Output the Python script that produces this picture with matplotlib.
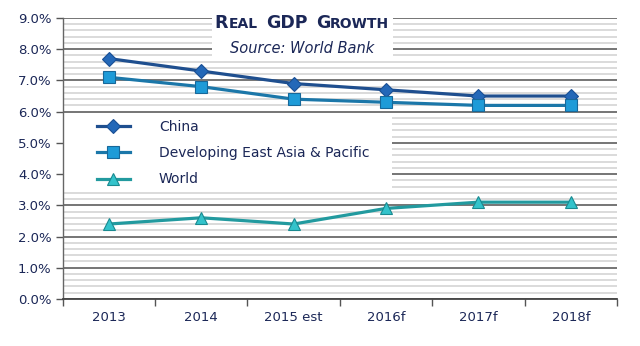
import matplotlib
matplotlib.use("Agg")
import matplotlib.pyplot as plt
from matplotlib.ticker import MultipleLocator, FuncFormatter
from matplotlib.offsetbox import TextArea, HPacker, VPacker, AnchoredOffsetbox
from matplotlib.patches import Rectangle

years = ["2013", "2014", "2015 est", "2016f", "2017f", "2018f"]
china = [7.7, 7.3, 6.9, 6.7, 6.5, 6.5]
east_asia = [7.1, 6.8, 6.4, 6.3, 6.2, 6.2]
world = [2.4, 2.6, 2.4, 2.9, 3.1, 3.1]

navy = "#1b2757"
font = "DejaVu Sans"

fig = plt.figure(figsize=(6.4, 3.46), dpi=100)
ax = fig.add_axes([0.098, 0.136, 0.866, 0.812])

x = list(range(len(years)))
ax.plot(x, china, color="#1f4f8f", lw=2.3, marker="D", ms=7,
        mfc="#2468b8", mec="#1a4f94", mew=0.8, label="China", zorder=5)
ax.plot(x, east_asia, color="#1b77a9", lw=2.3, marker="s", ms=8,
        mfc="#1e9bd8", mec="#17689a", mew=0.8,
        label="Developing East Asia & Pacific", zorder=5)
ax.plot(x, world, color="#229a9f", lw=2.3, marker="^", ms=9,
        mfc="#33c3cb", mec="#1a8a90", mew=0.8, label="World", zorder=5)

ax.set_xlim(-0.5, len(years) - 0.5)
ax.set_ylim(0, 9)

# y axis: major every 1%, light minor grid every 0.2%
ax.yaxis.set_major_locator(MultipleLocator(1))
ax.yaxis.set_minor_locator(MultipleLocator(0.2))
ax.yaxis.set_major_formatter(FuncFormatter(lambda v, p: f"{v:.1f}%"))
ax.grid(which="major", axis="y", color="#6a6a6a", lw=1.3, zorder=1)
ax.grid(which="minor", axis="y", color="#d8d8d8", lw=1.3, zorder=0)
ax.tick_params(axis="y", which="minor", length=0)
ax.tick_params(axis="y", which="major", length=5, width=1, color="#555555",
               labelsize=9.5, labelcolor=navy, pad=3)

# x axis: category labels centred, tick marks on the boundaries
ax.set_xticks(x)
ax.set_xticklabels(years)
ax.set_xticks([i - 0.5 for i in range(len(years) + 1)], minor=True)
ax.tick_params(axis="x", which="major", length=0, labelsize=9.5,
               labelcolor=navy, pad=9)
ax.tick_params(axis="x", which="minor", length=5, width=1, color="#555555")

for side in ("top", "right"):
    ax.spines[side].set_visible(False)
ax.spines["left"].set_color("#666666")
ax.spines["bottom"].set_color("#444444")
ax.spines["left"].set_linewidth(1)
ax.spines["bottom"].set_linewidth(1.3)
for side in ("left", "bottom"):
    ax.spines[side].set_zorder(8)

for lab in ax.get_xticklabels() + ax.get_yticklabels():
    lab.set_family(font)

# white panel behind the legend
ax.add_patch(Rectangle((0.0, 0.384), 0.594, 0.274, transform=ax.transAxes,
                       facecolor="white", edgecolor="none", zorder=4))

leg = ax.legend(loc="upper left", bbox_to_anchor=(0.061, 0.636), frameon=False,
                handlelength=2.4, handletextpad=2.1,
                borderpad=0, labelspacing=0.87, borderaxespad=0,
                prop={"family": font, "size": 10})
for t in leg.get_texts():
    t.set_color(navy)
leg.set_zorder(6)

# title block: white panel with a small-caps heading and source line
fig.patches.append(Rectangle((212 / 640, 1 - 60 / 346), 181 / 640, 52 / 346,
                             transform=fig.transFigure, facecolor="white",
                             edgecolor="none", zorder=3))


def small_caps(word, big=12.5, small=10):
    parts = [TextArea(word[0], textprops=dict(size=big, weight="bold",
                                              color=navy, family=font))]
    parts.append(TextArea(word[1:].upper(),
                          textprops=dict(size=small, weight="bold",
                                         color=navy, family=font)))
    return HPacker(children=parts, pad=0, sep=0, align="baseline")


title_row = HPacker(children=[small_caps("Real"),
                              TextArea("GDP", textprops=dict(size=12.5, weight="bold",
                                                             color=navy, family=font)),
                              small_caps("Growth")],
                    pad=0, sep=6, align="baseline")
source = TextArea("Source: World Bank",
                  textprops=dict(size=10.5, style="italic", color=navy, family=font))
block = VPacker(children=[title_row, source], pad=0, sep=6, align="center")
anch = AnchoredOffsetbox(loc="center", child=block, pad=0, frameon=False,
                         bbox_to_anchor=(302 / 640, 1 - 35 / 346),
                         bbox_transform=fig.transFigure)
anch.set_zorder(7)
fig.add_artist(anch)

fig.savefig("out.png", dpi=100, facecolor="white")
